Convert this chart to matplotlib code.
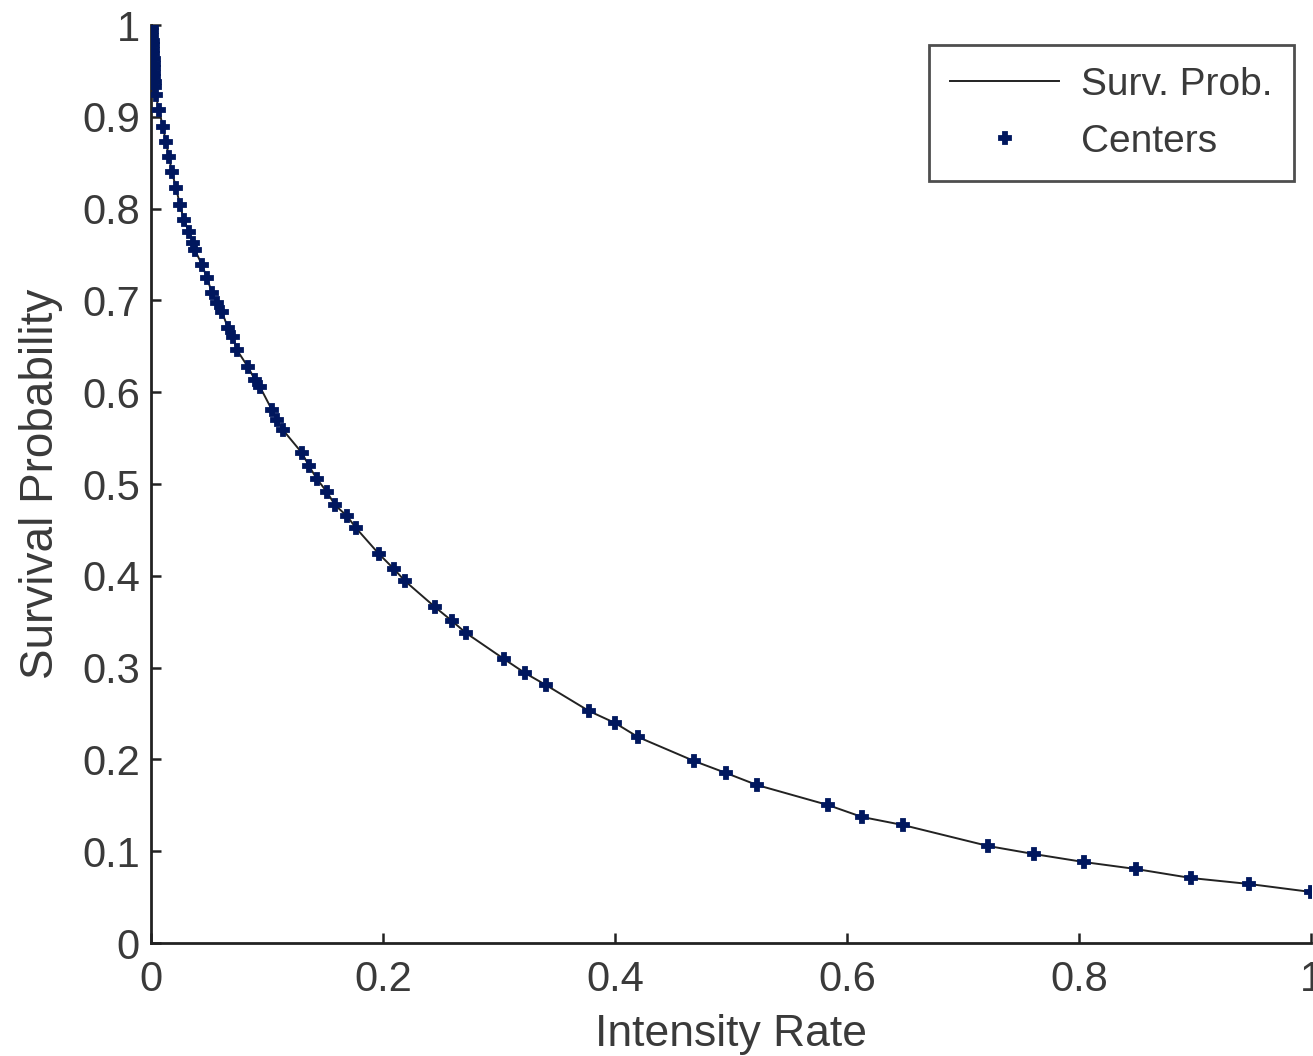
import matplotlib
matplotlib.use("Agg")
import matplotlib.pyplot as plt

# Centers
centers_x = [0.0008, 0.0010, 0.0012, 0.0014, 0.0016, 0.0018, 0.0020, 0.0022, 0.0024, 0.0026,
             0.0028, 0.0030, 0.0032, 0.0034,
             0.0040, 0.0069, 0.0103, 0.0129, 0.0155, 0.0181, 0.0216, 0.0250, 0.0284,
             0.0328, 0.0362, 0.0379, 0.0440, 0.0483, 0.0526, 0.0569, 0.0612,
             0.0664, 0.0707, 0.0741, 0.0836, 0.0897, 0.0940, 0.1043, 0.1086, 0.1138,
             0.1302, 0.1362, 0.1431, 0.1517, 0.1586, 0.1690, 0.1767, 0.1966, 0.2095,
             0.2190, 0.2448, 0.2595, 0.2716, 0.3043, 0.3224, 0.3405, 0.3776, 0.4000,
             0.4198, 0.4681, 0.4957, 0.5224, 0.5836, 0.6129, 0.6483, 0.7216, 0.7612,
             0.8043, 0.8491, 0.8966, 0.9466, 1.0000]
centers_y = [0.998, 0.993, 0.988, 0.983, 0.978, 0.973, 0.968, 0.963, 0.958, 0.953,
             0.948, 0.943, 0.938, 0.932,
             0.9237, 0.9074, 0.8889, 0.8725, 0.8562, 0.8399, 0.8224, 0.8039, 0.7876,
             0.7745, 0.7625, 0.7549, 0.7386, 0.7244, 0.7081, 0.6972, 0.6874,
             0.6699, 0.6601, 0.6460, 0.6275, 0.6133, 0.6057, 0.5806, 0.5697, 0.5588,
             0.5338, 0.5196, 0.5054, 0.4913, 0.4771, 0.4651, 0.4521, 0.4237, 0.4074,
             0.3943, 0.3660, 0.3508, 0.3377, 0.3094, 0.2941, 0.2810, 0.2527, 0.2397,
             0.2244, 0.1983, 0.1852, 0.1721, 0.1503, 0.1373, 0.1285, 0.1057, 0.0969,
             0.0882, 0.0806, 0.0708, 0.0643, 0.0556]

# Survival probability curve
curve_x = [0.0] + centers_x
curve_y = [1.0] + centers_y

x_ticks = [0, 0.2, 0.4, 0.6, 0.8, 1]
x_tick_labels = ["0", "0.2", "0.4", "0.6", "0.8", "1"]
y_ticks = [0, 0.1, 0.2, 0.3, 0.4, 0.5, 0.6, 0.7, 0.8, 0.9, 1]
y_tick_labels = ["0", "0.1", "0.2", "0.3", "0.4", "0.5", "0.6", "0.7", "0.8", "0.9", "1"]

plt.rcParams['font.family'] = ['Liberation Sans', 'DejaVu Sans']

fig = plt.figure(figsize=(13.13, 10.56), dpi=100)
ax = fig.add_axes([0.115, 0.107, 0.8835, 0.8693])

ax.plot(curve_x, curve_y, color='#222222', linewidth=1.4, label='Surv. Prob.', zorder=2)
ax.plot(centers_x, centers_y, linestyle='none', marker='P', markersize=8.5,
        color='#00175e', markeredgecolor='#00175e', markeredgewidth=1.3,
        label='Centers', zorder=3)

ax.set_xlim(0, 1)
ax.set_ylim(0, 1)
ax.set_xticks(x_ticks)
ax.set_xticklabels(x_tick_labels)
ax.set_yticks(y_ticks)
ax.set_yticklabels(y_tick_labels)

for s in ['top', 'right']:
    ax.spines[s].set_visible(False)
for s in ['left', 'bottom']:
    ax.spines[s].set_linewidth(2.0)
    ax.spines[s].set_color('#222222')

ax.tick_params(direction='in', length=7, width=1.8, color='#222222',
               labelsize=30, labelcolor='#3a3a3a')
ax.tick_params(axis='x', pad=12)
ax.tick_params(axis='y', pad=8)

ax.set_xlabel('Intensity Rate', fontsize=32, color='#3a3a3a', labelpad=10)
ax.set_ylabel('Survival Probability', fontsize=33, color='#3a3a3a', labelpad=14)

leg = ax.legend(loc='upper right', bbox_to_anchor=(0.985, 0.978), fontsize=28,
                frameon=True, fancybox=False, handlelength=2.8, borderpad=0.55,
                labelspacing=0.55, handletextpad=0.55, borderaxespad=0)
leg.get_frame().set_edgecolor('#222222')
leg.get_frame().set_linewidth(2.0)
for t in leg.get_texts():
    t.set_color('#3a3a3a')

fig.savefig('out.png', dpi=100)
